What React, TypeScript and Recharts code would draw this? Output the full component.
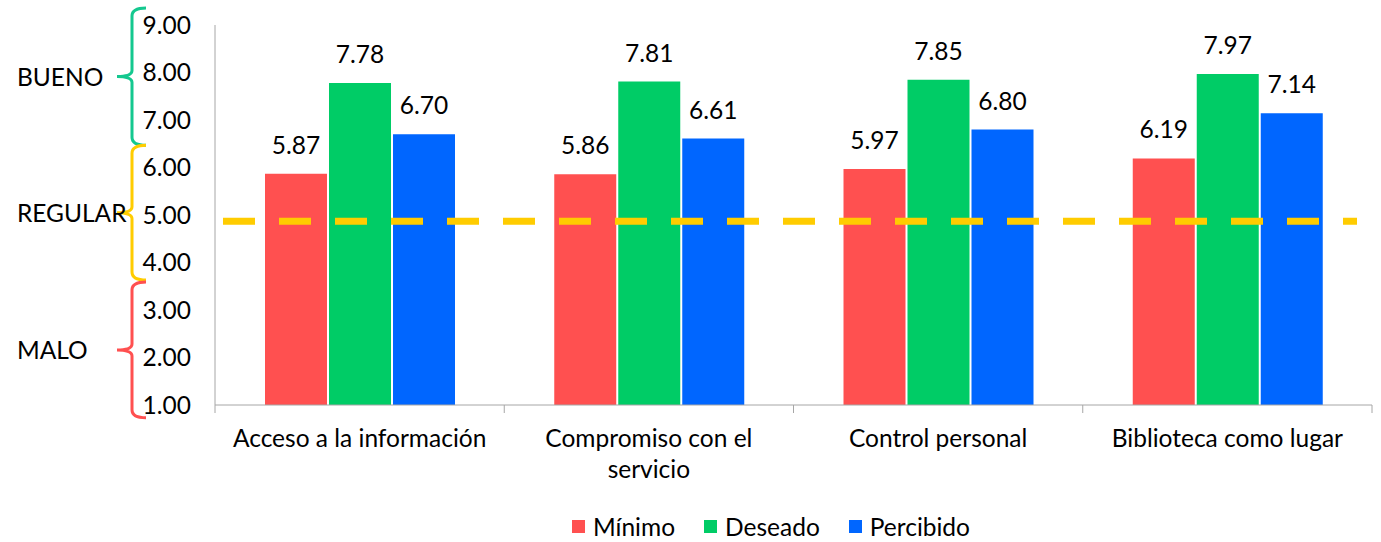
import { Bar, BarChart, Customized, LabelList, Legend, ReferenceLine, XAxis, YAxis } from "recharts";

const categories = ["Acceso a la información", "Compromiso con el servicio", "Control personal", "Biblioteca como lugar"];
const seriesNames = ["Mínimo", "Deseado", "Percibido"];
const minimo = [5.87, 5.86, 5.97, 6.19];
const deseado = [7.78, 7.81, 7.85, 7.97];
const percibido = [6.7, 6.61, 6.8, 7.14];
const yTicks = [1, 2, 3, 4, 5, 6, 7, 8, 9];
const threshold = 4.87;

// rating bands drawn as braces left of the axis
const bandLabels = ["BUENO", "REGULAR", "MALO"];
const bandRanges = [[9.36, 6.47], [6.47, 3.63], [3.59, 0.73]];
const bandColors = ["#14C88F", "#FFCC00", "#FF5050"];

const data = categories.map((name, i) => ({
  name,
  minimo: minimo[i],
  deseado: deseado[i],
  percibido: percibido[i],
}));

const W = 1381;
const H = 542;
const TOP = 25;
const PLOT_H = 380;
const FONT = "Lato";
const FS = 24.5;
const AXIS = "#A6A6A6";

const py = (v: number) => TOP + ((9 - v) / 8) * PLOT_H;

let ctx: CanvasRenderingContext2D | null = null;
function wrap(text: string, maxW: number) {
  if (!ctx) ctx = document.createElement("canvas").getContext("2d");
  ctx!.font = `${FS}px ${FONT}`;
  const lines: string[] = [];
  let cur = "";
  for (const w of text.split(" ")) {
    const next = cur ? cur + " " + w : w;
    if (cur && ctx!.measureText(next).width > maxW) {
      lines.push(cur);
      cur = w;
    } else cur = next;
  }
  if (cur) lines.push(cur);
  return lines;
}

function Brackets() {
  return (
    <g>
      {bandLabels.map((label, i) => {
        const t = py(bandRanges[i][0]);
        const b = py(bandRanges[i][1]);
        const m = (t + b) / 2;
        const d = `M146 ${t} Q132 ${t} 132 ${t + 8} L132 ${m - 6} Q132 ${m} 117 ${m} Q132 ${m} 132 ${m + 6} L132 ${b - 8} Q132 ${b} 146 ${b}`;
        return (
          <g key={label}>
            <path d={d} fill="none" stroke={bandColors[i]} strokeWidth={3} />
            <text x={17} y={m} dominantBaseline="central" fontFamily={FONT} fontSize={FS} fill="#000">
              {label}
            </text>
          </g>
        );
      })}
    </g>
  );
}

function CategoryTick(props: any) {
  const { x, y, payload, width, visibleTicksCount, index } = props;
  const band = width / visibleTicksCount;
  const left = x - band / 2;
  const right = x + band / 2;
  const lines = wrap(String(payload.value), 270);
  return (
    <g>
      <line x1={left} x2={left} y1={y} y2={y + 8} stroke={AXIS} />
      {index === visibleTicksCount - 1 && <line x1={right} x2={right} y1={y} y2={y + 8} stroke={AXIS} />}
      <text x={x} y={y + 42} textAnchor="middle" fontFamily={FONT} fontSize={FS} fill="#000">
        {lines.map((l, i) => (
          <tspan key={i} x={x} dy={i === 0 ? 0 : 31}>
            {l}
          </tspan>
        ))}
      </text>
    </g>
  );
}

function LegendContent({ payload }: any) {
  return (
    <div style={{ display: "flex", paddingLeft: 572, fontFamily: FONT, fontSize: FS, color: "#000" }}>
      {(payload || []).map((p: any) => (
        <div key={p.value} style={{ display: "flex", alignItems: "center", marginRight: 29 }}>
          <span style={{ width: 13, height: 13, background: p.color, marginRight: 8, display: "inline-block" }} />
          <span>{p.value}</span>
        </div>
      ))}
    </div>
  );
}

function DashLine(props: any) {
  const { x1, x2, y1, y2 } = props;
  return (
    <line x1={x1} x2={x2 - 15} y1={y1} y2={y2} stroke="#FFCC00" strokeWidth={7} strokeDasharray="32 24" strokeDashoffset={48} />
  );
}

export default function App() {
  return (
    <div style={{ position: "absolute", left: 0, top: 0, background: "#fff" }}>
      <BarChart width={W} height={H} data={data} margin={{ top: TOP, right: 9, left: 0, bottom: 0 }} barSize={62} barGap={2}>
        <YAxis
          domain={[1, 9]}
          ticks={yTicks}
          interval={0}
          width={215}
          tickFormatter={(v: number) => v.toFixed(2)}
          axisLine={{ stroke: AXIS }}
          tickLine={false}
          tickSize={0}
          tickMargin={24}
          tick={{ fontFamily: FONT, fontSize: FS, fill: "#000" }}
        />
        <XAxis
          dataKey="name"
          height={137}
          interval={0}
          axisLine={{ stroke: AXIS }}
          tickLine={false}
          tickSize={0}
          tickMargin={0}
          tick={<CategoryTick />}
        />
        <Bar dataKey="minimo" name={seriesNames[0]} fill="#FF5050" isAnimationActive={false}>
          <LabelList dataKey="minimo" position="top" offset={20} formatter={(v: number) => v.toFixed(2)} style={{ fontFamily: FONT, fontSize: FS, fill: "#000" }} />
        </Bar>
        <Bar dataKey="deseado" name={seriesNames[1]} fill="#00CC66" isAnimationActive={false}>
          <LabelList dataKey="deseado" position="top" offset={20} formatter={(v: number) => v.toFixed(2)} style={{ fontFamily: FONT, fontSize: FS, fill: "#000" }} />
        </Bar>
        <Bar dataKey="percibido" name={seriesNames[2]} fill="#0066FF" isAnimationActive={false}>
          <LabelList dataKey="percibido" position="top" offset={20} formatter={(v: number) => v.toFixed(2)} style={{ fontFamily: FONT, fontSize: FS, fill: "#000" }} />
        </Bar>
        <ReferenceLine y={threshold} shape={<DashLine />} />
        <Legend
          layout="horizontal"
          verticalAlign="middle"
          align="center"
          itemSorter={(item: any) => seriesNames.indexOf(item.value)}
          content={<LegendContent />}
          wrapperStyle={{ top: 512, left: 0, width: W }}
        />
        <Customized component={<Brackets />} />
      </BarChart>
    </div>
  );
}
